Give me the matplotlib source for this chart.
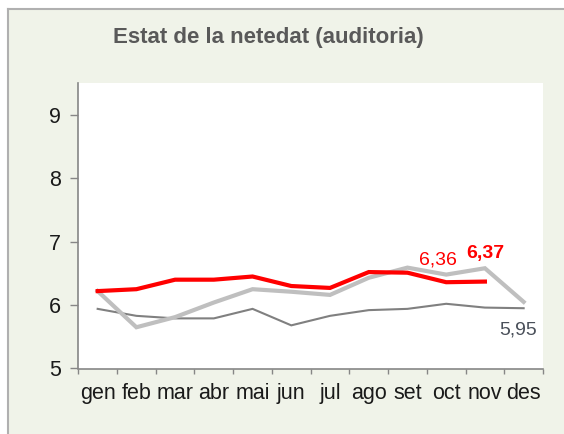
import matplotlib
matplotlib.use("Agg")
import matplotlib.pyplot as plt
from matplotlib.patches import Rectangle
from matplotlib.lines import Line2D
from matplotlib.ticker import FixedLocator, NullFormatter

months = ["gen", "feb", "mar", "abr", "mai", "jun", "jul", "ago", "set", "oct", "nov", "des"]
current = [6.22, 6.25, 6.40, 6.40, 6.45, 6.30, 6.27, 6.52, 6.51, 6.36, 6.37]
previous = [6.22, 5.65, 5.81, 6.04, 6.25, 6.21, 6.16, 6.43, 6.59, 6.48, 6.58, 6.05]
older = [5.94, 5.83, 5.79, 5.79, 5.94, 5.68, 5.83, 5.92, 5.94, 6.02, 5.96, 5.95]
y_ticks = [5, 6, 7, 8, 9]

plt.rcParams['font.family'] = ['Liberation Sans', 'DejaVu Sans']

W, H = 564, 434
fig = plt.figure(figsize=(W / 100, H / 100), dpi=100)
fig.patch.set_facecolor('#f0f3e9')
fx0, fy1 = 8 / W, 1 - 9 / H
# white margin strips at top and left, then the frame border
fig.patches.append(Rectangle((-0.1, fy1), 1.3, 0.2, transform=fig.transFigure,
                             facecolor='white', edgecolor='none', zorder=-10))
fig.patches.append(Rectangle((-0.1, -0.1), 0.1 + fx0, 1.3, transform=fig.transFigure,
                             facecolor='white', edgecolor='none', zorder=-10))
fig.lines.append(Line2D([fx0, fx0], [-0.1, fy1], transform=fig.transFigure, color='#b0b0b0', lw=1.5, zorder=-9))
fig.lines.append(Line2D([fx0, 1.1], [fy1, fy1], transform=fig.transFigure, color='#b0b0b0', lw=1.5, zorder=-9))

ax = fig.add_axes([78.3 / W, (H - 368.5) / H, (543 - 78.3) / W, (368.5 - 83) / H])
ax.set_zorder(5)
ax.set_facecolor('white')

x_cur = list(range(len(current)))
x_all = list(range(len(months)))
ax.plot(x_all, older, color='#808080', lw=1.5, solid_joinstyle='miter', zorder=2)
ax.plot(x_all, previous, color='#bfbfbf', lw=3.0, solid_joinstyle='miter', zorder=3)
ax.plot(x_cur, current, color='#ff0000', lw=3.0, solid_joinstyle='miter', zorder=4)

ax.set_xlim(-0.5, len(months) - 0.5)
ax.set_ylim(5, 9.5)

ax.set_yticks(y_ticks)
ax.set_yticklabels([str(v) for v in y_ticks])
ax.xaxis.set_major_locator(FixedLocator(x_all))
ax.set_xticklabels(months)
ax.xaxis.set_minor_locator(FixedLocator([i - 0.5 for i in range(len(months) + 1)]))
ax.xaxis.set_minor_formatter(NullFormatter())
ax.tick_params(axis='x', which='major', length=0, pad=10.5, labelsize=15.5, labelcolor='#1a1a1a')
ax.tick_params(axis='x', which='minor', length=3.8, width=1, color='#868686', direction='out')
ax.tick_params(axis='y', length=5.5, width=1, color='#868686', direction='out', pad=7,
               labelsize=15.5, labelcolor='#1a1a1a')

for s in ['top', 'right']:
    ax.spines[s].set_visible(False)
for s in ['left', 'bottom']:
    ax.spines[s].set_color('#868686')
    ax.spines[s].set_linewidth(1.2)

ax.annotate(f"{current[9]:.2f}".replace('.', ','), (9, current[9]), xytext=(-6, 16),
            textcoords='offset points', ha='center', va='center', color='#ff0000', fontsize=14)
ax.annotate(f"{current[10]:.2f}".replace('.', ','), (10, current[10]), xytext=(0, 20),
            textcoords='offset points', ha='center', va='center', color='#ff0000', fontsize=14,
            fontweight='bold')
ax.annotate(f"{older[11]:.2f}".replace('.', ','), (11, older[11]), xytext=(-4, -15.5),
            textcoords='offset points', ha='center', va='center', color='#4a505a', fontsize=14)

fig.text(268 / W, 1 - 38 / H, "Estat de la netedat (auditoria)", ha='center', va='center',
         fontsize=16, fontweight='bold', color='#595959')

fig.savefig('out.png', dpi=100, facecolor=fig.get_facecolor())
